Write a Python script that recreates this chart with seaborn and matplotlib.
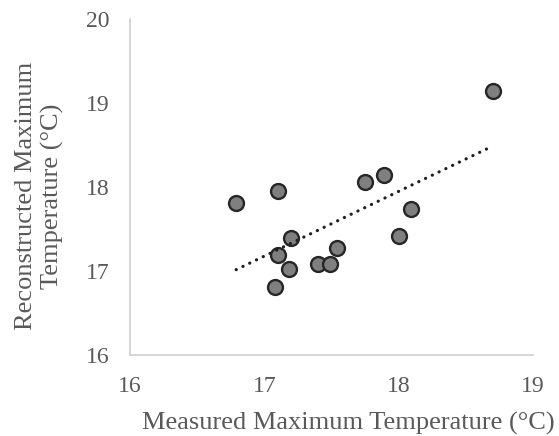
import matplotlib
matplotlib.use("Agg")
import matplotlib.pyplot as plt
import seaborn as sns
import pandas as pd

# Measured vs reconstructed maximum temperature (°C)
measured = [16.79, 17.10, 17.20, 17.10, 17.18, 17.08, 17.40, 17.49, 17.54,
            17.75, 17.89, 18.09, 18.00, 18.70]
reconstructed = [17.81, 17.96, 17.40, 17.19, 17.03, 16.81, 17.08, 17.09, 17.27,
                 18.06, 18.14, 17.74, 17.42, 19.14]
x_ticks = [16, 17, 18, 19]
y_ticks = [16, 17, 18, 19, 20]

df = pd.DataFrame({"measured": measured, "reconstructed": reconstructed})

sns.set_style("white")
plt.rcParams["font.family"] = ["Liberation Serif", "DejaVu Serif"]
text_color = "#595959"

fig = plt.figure(figsize=(5.59, 4.36), dpi=100)
ax = fig.add_axes([0.2326, 0.1858, 0.7209, 0.7699])

sns.regplot(
    data=df, x="measured", y="reconstructed", ax=ax, ci=None,
    scatter_kws=dict(s=115, color="#7f7f7f", edgecolors="#262626",
                     linewidths=1.7, alpha=1, zorder=3),
    line_kws=dict(color="#1f1f1f", linewidth=2.3, linestyle=(0, (0.05, 2.3)),
                  dash_capstyle="round", zorder=4),
)

ax.set_xlim(16, 19)
ax.set_ylim(16, 20)
ax.set_xticks(x_ticks)
ax.set_yticks(y_ticks)
ax.tick_params(axis="both", length=0, labelsize=17, colors=text_color)
ax.tick_params(axis="x", pad=15)
ax.tick_params(axis="y", pad=15)

for side in ("top", "right"):
    ax.spines[side].set_visible(False)
for side in ("left", "bottom"):
    ax.spines[side].set_color("#d0d0d0")
    ax.spines[side].set_linewidth(1.2)

ax.set_xlabel("Measured Maximum Temperature (°C)", fontsize=19,
              color=text_color, va="center", ha="center")
ax.set_ylabel("Reconstructed Maximum\nTemperature (°C)", fontsize=19,
              color=text_color, linespacing=1.2, va="center", ha="center")
ax.xaxis.set_label_coords(0.6234, 0.028, transform=fig.transFigure)
ax.yaxis.set_label_coords(0.0707, 0.5505, transform=fig.transFigure)

fig.savefig("out.png", dpi=100)
